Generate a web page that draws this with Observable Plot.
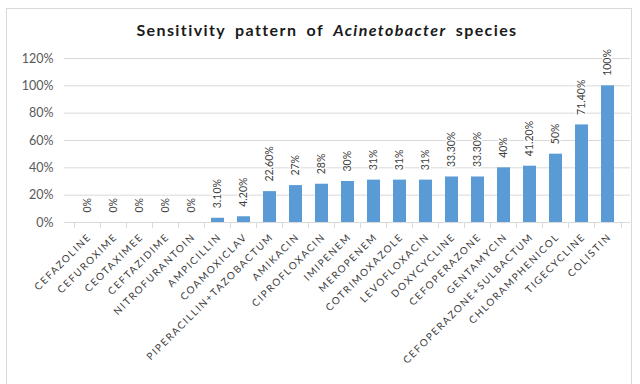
<!DOCTYPE html>
<html><head><meta charset="utf-8">
<script src="https://cdn.jsdelivr.net/npm/d3@7"></script>
<script src="https://cdn.jsdelivr.net/npm/@observablehq/plot@0.6"></script>
<style>
html,body{margin:0;padding:0;background:#fff;}
#wrap{position:relative;width:640px;height:384px;overflow:hidden;font-family:Lato,"Open Sans",sans-serif;}
#frame{position:absolute;left:6px;top:8px;width:626px;height:380px;border:1px solid #d9d9d9;box-sizing:border-box;}
#title{position:absolute;left:0;width:654px;top:20px;text-align:center;font-size:16px;font-weight:bold;letter-spacing:1.4px;word-spacing:4px;color:#1a1a1a;}
#chart{position:absolute;left:0;top:0;}
</style>
</head><body>
<div id="wrap">
<div id="frame"></div>
<div id="chart"></div>
<div id="title">Sensitivity pattern of <i>Acinetobacter</i> species</div>
</div>
<script>
const drugs = ["CEFAZOLINE","CEFUROXIME","CEOTAXIMEE","CEFTAZIDIME","NITROFURANTOIN","AMPICILLIN","COAMOXICLAV","PIPERACILLIN+TAZOBACTUM","AMIKACIN","CIPROFLOXACIN","IMIPENEM","MEROPENEM","COTRIMOXAZOLE","LEVOFLOXACIN","DOXYCYCLINE","CEFOPERAZONE","GENTAMYCIN","CEFOPERAZONE+SULBACTUM","CHLORAMPHENICOL","TIGECYCLINE","COLISTIN"];
const sensitivity = [0,0,0,0,0,3.1,4.2,22.6,27,28,30,31,31,31,33.3,33.3,40,41.2,50,71.4,100];
const valueLabels = ["0%","0%","0%","0%","0%","3.10%","4.20%","22.60%","27%","28%","30%","31%","31%","31%","33.30%","33.30%","40%","41.20%","50%","71.40%","100%"];
const yTicks = [0,20,40,60,80,100,120];

const data = drugs.map((d,i)=>({drug:d, value:sensitivity[i], label:valueLabels[i]}));

const W = 640, H = 384, mL = 64, mR = 10, mT = 58, mB = 162;
const bw = (W - mL - mR) / drugs.length;
const tickLen = 4.4;

const chart = Plot.plot({
  width: W, height: H,
  marginLeft: mL, marginRight: mR, marginTop: mT, marginBottom: mB,
  style: {fontFamily: "Lato, 'Open Sans', sans-serif", background: "transparent", color: "#595959"},
  x: {domain: drugs, padding: 0.5, axis: null},
  y: {domain: [0,120], ticks: yTicks, label: null},
  marks: [
    Plot.gridY(yTicks, {stroke: "#d9d9d9", strokeOpacity: 1}),
    Plot.axisY(yTicks, {tickSize: 0, tickPadding: 11, fontSize: 12.5, tickFormat: d => d + "%", fill: "#595959", label: null}),
    Plot.ruleX(drugs, {x: d => d, y1: 0, y2: -tickLen, dx: -bw/2, stroke: "#d9d9d9"}),
    Plot.ruleX(drugs.slice(-1), {x: d => d, y1: 0, y2: -tickLen, dx: bw/2, stroke: "#d9d9d9"}),
    Plot.barY(data, {x: "drug", y: "value", fill: "#5b9bd5"}),
    Plot.text(data, {x: "drug", y: "value", text: "label", rotate: -90, textAnchor: "start", dy: -10, fontSize: 10.5, fill: "#404040", stroke: "white", strokeWidth: 3, paintOrder: "stroke"}),
    Plot.text(data, {x: "drug", frameAnchor: "bottom", text: "drug", rotate: -45, textAnchor: "end", dx: 4, dy: 15, fontSize: 10, fill: "#404040"})
  ]
});
document.getElementById("chart").appendChild(chart);
const textGroups = d3.select(chart).selectAll('g[aria-label="text"]').nodes();
d3.select(textGroups[textGroups.length - 1]).selectAll("text").style("letter-spacing", "1.6px");
</script>
</body></html>
